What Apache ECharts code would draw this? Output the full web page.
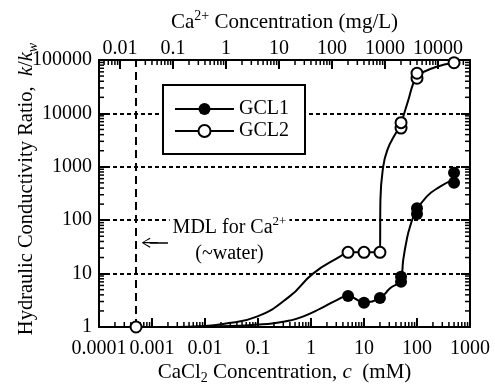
<!DOCTYPE html>
<html>
<head>
<meta charset="utf-8">
<script src="https://cdn.jsdelivr.net/npm/echarts@6/dist/echarts.min.js"></script>
<style>
  html, body { margin: 0; padding: 0; background: #fff; }
  #frame, #marks { position: absolute; left: 0; top: 0; width: 495px; height: 388px; }
  #marks { pointer-events: none; }
  #err { position: absolute; left: 0; top: 0; font: 11px monospace; color: red; white-space: pre; z-index: 9; }
</style>
</head>
<body>
<div id="frame"></div>
<div id="marks"></div>
<div id="err"></div>
<script>
window.onerror = function (msg) { document.getElementById('err').textContent += msg + '\n'; };

const FONT = '"Liberation Serif", "Times New Roman", Times, serif';

// Measured hydraulic conductivity ratios k/kw against CaCl2 concentration (mM)
const gcl1Conc  = [5, 10, 20, 50, 50, 100, 100, 500, 500];
const gcl1Ratio = [3.8, 2.85, 3.5, 7.0, 8.7, 130, 167, 505, 775];
const gcl2Conc  = [0.0005, 5, 10, 20, 50, 50, 100, 100, 500];
const gcl2Ratio = [1, 25, 25, 25, 5300, 6700, 45500, 56500, 89000];

// Trend curves drawn through each data set
const gcl1CurveConc  = [0.003, 0.01, 0.03, 0.095, 0.2, 0.4, 0.7, 1.5, 3, 5, 10, 20, 31, 50, 55, 64, 74, 92, 152, 272, 500];
const gcl1CurveRatio = [1, 1.01, 1.04, 1.11, 1.18, 1.32, 1.56, 2.2, 3.15, 3.8, 2.9, 3.5, 5.3, 7.8, 18, 43, 76, 135, 276, 424, 580];
const gcl2CurveConc  = [0.003, 0.008, 0.022, 0.095, 0.39, 1.09, 3.5, 5, 10, 20, 20.4, 23, 27.5, 38, 50, 55, 68.6, 85, 100, 219, 500];
const gcl2CurveRatio = [1, 1.03, 1.14, 1.56, 3.7, 10, 20.7, 25, 25, 25, 240, 1000, 2060, 3940, 6000, 8670, 17800, 36600, 50000, 73000, 89000];

// Tick labels
const concTickLabels  = ['0.0001', '0.001', '0.01', '0.1', '1', '10', '100', '1000'];
const caTickLabels    = ['0.01', '0.1', '1', '10', '100', '1000', '10000'];
const ratioTickLabels = ['1', '10', '100', '1000', '10000', '100000'];

const CA_MG_PER_MMOL = 40.08;   // 1 mM Ca2+ = 40.08 mg/L
const MDL_CONC = 0.0005;         // method detection limit for Ca2+, mM
const CONC_MIN = 0.0001, CONC_MAX = 1000;
const RATIO_MIN = 1, RATIO_MAX = 100000;
const CA_MIN = CONC_MIN * CA_MG_PER_MMOL, CA_MAX = CONC_MAX * CA_MG_PER_MMOL;

const MAJOR_LEN = 9, MINOR_LEN = 5;
const GRID = { left: 99, right: 25, top: 60, bottom: 61, outerBoundsMode: 'none' };

const zip = (xs, ys) => xs.map((x, i) => [x, ys[i]]);

function labelFrom(list) {
  return function (v) {
    for (const s of list) {
      if (Math.abs(Math.log10(v) - Math.log10(+s)) < 1e-6) return s;
    }
    return '';
  };
}

// 2..9 sub-decade tick values strictly inside (min, max)
function minorLogValues(min, max) {
  const out = [];
  const e0 = Math.floor(Math.log10(min)), e1 = Math.ceil(Math.log10(max));
  for (let e = e0; e <= e1; e++) {
    for (let m = 2; m <= 9; m++) {
      const v = m * Math.pow(10, e);
      if (v > min * (1 + 1e-9) && v < max * (1 - 1e-9)) out.push(v);
    }
  }
  return out;
}

const bottomMinor = minorLogValues(CONC_MIN, CONC_MAX).map(v => [v, RATIO_MIN, 0, -1]);
const topMinor = minorLogValues(CA_MIN, CA_MAX).map(v => [v, RATIO_MAX, 0, 1]);
const sideMinor = [];
minorLogValues(RATIO_MIN, RATIO_MAX).forEach(v => {
  sideMinor.push([CONC_MIN, v, 1, 0]);
  sideMinor.push([CONC_MAX, v, -1, 0]);
});

function minorTickSeries(xAxisIndex, data) {
  return {
    type: 'custom',
    coordinateSystem: 'cartesian2d',
    xAxisIndex: xAxisIndex,
    yAxisIndex: 0,
    silent: true,
    clip: false,
    z: 1,
    data: data,
    renderItem: function (params, api) {
      const p = api.coord([api.value(0), api.value(1)]);
      return {
        type: 'line',
        shape: { x1: p[0], y1: p[1], x2: p[0] + api.value(2) * MINOR_LEN, y2: p[1] + api.value(3) * MINOR_LEN },
        style: { stroke: '#000', lineWidth: 1.5 }
      };
    }
  };
}

const txt = { fontFamily: FONT, fontSize: 20, color: '#000' };
function titleStyle(size, extra) {
  const small = Math.round(size * 0.67);
  return Object.assign({
    fontFamily: FONT, fontSize: size, color: '#000',
    rich: {
      t: { fontFamily: FONT, fontSize: size, color: '#000', lineHeight: 26 },
      it: { fontFamily: FONT, fontSize: size, color: '#000', fontStyle: 'italic', lineHeight: 26 },
      sub: { fontFamily: FONT, fontSize: small, color: '#000', lineHeight: small, verticalAlign: 'bottom' },
      isub: { fontFamily: FONT, fontSize: small, color: '#000', fontStyle: 'italic', lineHeight: small, verticalAlign: 'bottom' },
      sup: { fontFamily: FONT, fontSize: small, color: '#000', lineHeight: small, verticalAlign: 'top' }
    }
  }, extra || {});
}

// ---------- frame layer: axes, ticks, labels, titles, gridlines, curves ----------
function frameAxis(extra) {
  return Object.assign({
    type: 'log',
    logBase: 10,
    nameMoveOverlap: false,
    axisLine: { show: true, onZero: false, lineStyle: { color: '#000', width: 2 } },
    axisTick: { show: true, inside: true, length: MAJOR_LEN, lineStyle: { color: '#000', width: 2 } },
    splitLine: { show: false },
    axisLabel: Object.assign({}, txt)
  }, extra);
}

const frame = echarts.init(document.getElementById('frame'), null, { renderer: 'canvas' });
frame.setOption({
  animation: false,
  backgroundColor: '#fff',
  grid: GRID,
  xAxis: [
    frameAxis({
      position: 'bottom', min: CONC_MIN, max: CONC_MAX,
      axisLabel: Object.assign({}, txt, { margin: 12, formatter: labelFrom(concTickLabels) }),
      name: '{t|CaCl}{sub|2}{t| Concentration, }{it|c}{t|  (mM)}',
      nameLocation: 'middle', nameGap: 32, nameTextStyle: titleStyle(21)
    }),
    frameAxis({
      position: 'top', min: CA_MIN, max: CA_MAX,
      axisLabel: Object.assign({}, txt, {
        margin: 1, showMinLabel: false, showMaxLabel: false, formatter: labelFrom(caTickLabels)
      }),
      name: '{t|Ca}{sup|2+}{t| Concentration (mg/L)}',
      nameLocation: 'middle', nameGap: 25, nameTextStyle: titleStyle(21)
    })
  ],
  yAxis: [
    frameAxis({
      position: 'left', min: RATIO_MIN, max: RATIO_MAX,
      splitLine: { show: true, lineStyle: { color: '#000', width: 2, type: [4, 3] } },
      axisLabel: Object.assign({}, txt, { margin: 7, formatter: labelFrom(ratioTickLabels) }),
      name: '{t|Hydraulic Conductivity Ratio,  }{it|k}{t|/}{it|k}{isub|w}',
      nameLocation: 'middle', nameGap: 59,
      nameTextStyle: titleStyle(20.5, { padding: [0, 0, 0, 9] })
    }),
    frameAxis({
      position: 'right', min: RATIO_MIN, max: RATIO_MAX,
      axisLabel: { show: false }
    })
  ],
  series: [
    minorTickSeries(0, bottomMinor.concat(sideMinor)),
    minorTickSeries(1, topMinor),
    {
      type: 'line',
      data: zip(gcl1CurveConc, gcl1CurveRatio),
      smooth: 0.5,
      symbol: 'none',
      lineStyle: { color: '#000', width: 2 },
      z: 3,
      silent: true
    },
    {
      type: 'line',
      data: zip(gcl2CurveConc, gcl2CurveRatio),
      smooth: 0.5,
      symbol: 'none',
      lineStyle: { color: '#000', width: 2 },
      z: 3,
      silent: true
    }
  ]
});

// ---------- marks layer: data points, legend, detection limit and its note ----------
function plainAxis(extra) {
  return Object.assign({
    type: 'log',
    axisLine: { show: false, onZero: false },
    axisTick: { show: false },
    axisLabel: { show: false },
    splitLine: { show: false }
  }, extra);
}

const marks = echarts.init(document.getElementById('marks'), null, { renderer: 'canvas' });
marks.setOption({
  animation: false,
  backgroundColor: 'transparent',
  grid: GRID,
  legend: {
    data: ['GCL1', 'GCL2'],
    orient: 'vertical',
    left: 163,
    top: 85,
    itemWidth: 59,
    itemHeight: 15,
    itemGap: 2,
    padding: [14, 16, 13, 11],
    borderColor: '#000',
    borderWidth: 2,
    borderRadius: 0,
    backgroundColor: '#fff',
    selectedMode: false,
    textStyle: txt
  },
  xAxis: [plainAxis({ position: 'bottom', min: CONC_MIN, max: CONC_MAX })],
  yAxis: [plainAxis({ position: 'left', min: RATIO_MIN, max: RATIO_MAX })],
  series: [
    {
      // legend entries (the curves themselves are on the frame layer)
      name: 'GCL1', type: 'line', data: [], symbol: 'none',
      lineStyle: { color: '#000', width: 2 }, itemStyle: { color: '#000' }
    },
    {
      name: 'GCL2', type: 'line', data: [], symbol: 'none',
      lineStyle: { color: '#000', width: 2 }, itemStyle: { color: '#fff', borderColor: '#000', borderWidth: 2 }
    },
    {
      // detection-limit marker and its arrow
      type: 'scatter',
      silent: true,
      data: [],
      z: 2,
      markLine: {
        silent: true,
        animation: false,
        label: { show: false },
        emphasis: { disabled: true },
        data: [
          [
            { coord: [MDL_CONC, RATIO_MIN], symbol: 'none', lineStyle: { color: '#000', width: 2, type: [8, 5] } },
            { coord: [MDL_CONC, RATIO_MAX], symbol: 'none' }
          ],
          [
            { coord: [0.002, 38], symbol: 'none', lineStyle: { color: '#000', width: 1.5, type: 'solid' } },
            {
              coord: [0.000905, 38],
              symbol: 'path://M5,0 L10,8 L9,8.8 L5.6,2.4 L5.6,16 L4.4,16 L4.4,2.4 L1,8.8 L0,8 Z',
              symbolSize: [10, 16]
            }
          ]
        ]
      }
    },
    {
      name: 'GCL1 points',
      type: 'scatter',
      data: zip(gcl1Conc, gcl1Ratio),
      symbol: 'circle',
      symbolSize: 12,
      itemStyle: { color: '#000', opacity: 1 },
      z: 5,
      silent: true
    },
    {
      name: 'GCL2 points',
      type: 'scatter',
      data: zip(gcl2Conc, gcl2Ratio),
      symbol: 'circle',
      symbolSize: 11,
      itemStyle: { color: '#fff', borderColor: '#000', borderWidth: 2, opacity: 1 },
      z: 5,
      silent: true
    },
    {
      // "MDL for Ca2+ (~water)" note
      type: 'scatter',
      silent: true,
      data: [[0.029, 40.8]],
      symbolSize: 1,
      itemStyle: { color: 'rgba(0,0,0,0)', opacity: 1 },
      z: 4,
      label: {
        show: true,
        position: 'inside',
        formatter: '{t|MDL for Ca}{sup|2+}\n{t|(~water)}',
        backgroundColor: '#fff',
        padding: [0, 3],
        color: '#000',
        rich: {
          t: { fontFamily: FONT, fontSize: 20, color: '#000', lineHeight: 26 },
          sup: { fontFamily: FONT, fontSize: 13, color: '#000', lineHeight: 13, verticalAlign: 'top' }
        }
      }
    }
  ]
});
</script>
</body>
</html>
